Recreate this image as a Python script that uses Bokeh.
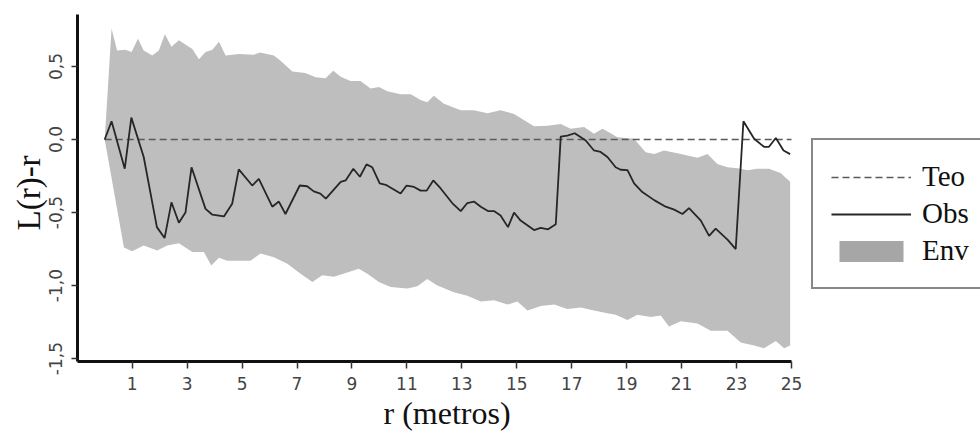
import math
from bokeh.plotting import figure
from bokeh.models import Range1d, FixedTicker, Legend, LegendItem, Title
from bokeh.embed import file_html
from bokeh.resources import INLINE

# ---- data ----
obs_r = [0, 0.25, 0.73, 0.97, 1.42, 1.9, 2.18, 2.43, 2.7, 2.94, 3.16, 3.67, 3.92, 4.34, 4.64,
         4.88, 5.37, 5.61, 6.1, 6.34, 6.58, 7.1, 7.37, 7.61, 7.85, 8.05, 8.59, 8.77, 9.05, 9.29,
         9.53, 9.74, 10.01, 10.23, 10.77, 10.99, 11.26, 11.5, 11.72, 11.96, 12.23, 12.65, 12.96,
         13.2, 13.44, 13.69, 13.95, 14.17, 14.41, 14.68, 14.9, 15.14, 15.41, 15.63, 15.87, 16.14,
         16.42, 16.6, 16.84, 17.11, 17.51, 17.81, 18.05, 18.3, 18.6, 18.78, 19.03, 19.27, 19.57,
         20.0, 20.42, 20.73, 21.03, 21.27, 21.7, 22.0, 22.24, 22.67, 22.97, 23.25, 23.64, 24.0,
         24.18, 24.43, 24.71, 24.95]
obs_v = [0, 0.125, -0.20, 0.15, -0.12, -0.60, -0.675, -0.43, -0.57, -0.50, -0.19, -0.475, -0.515,
         -0.527, -0.44, -0.205, -0.315, -0.27, -0.46, -0.425, -0.51, -0.315, -0.32, -0.355, -0.37,
         -0.405, -0.29, -0.28, -0.20, -0.255, -0.17, -0.19, -0.30, -0.31, -0.37, -0.315, -0.325,
         -0.35, -0.35, -0.28, -0.335, -0.435, -0.49, -0.435, -0.425, -0.46, -0.49, -0.49, -0.52,
         -0.60, -0.50, -0.555, -0.59, -0.62, -0.605, -0.615, -0.58, 0.02, 0.027, 0.043, -0.007,
         -0.075, -0.085, -0.12, -0.19, -0.207, -0.21, -0.30, -0.36, -0.415, -0.46, -0.48, -0.51,
         -0.47, -0.555, -0.66, -0.61, -0.685, -0.75, 0.125, 0.005, -0.05, -0.05, 0.01, -0.075, -0.10]

env_up_r = [0, 0.25, 0.45, 0.75, 0.98, 1.21, 1.42, 1.73, 1.97, 2.19, 2.43, 2.7, 3.19, 3.43, 3.67,
            3.92, 4.16, 4.4, 4.88, 5.43, 5.65, 6.16, 6.4, 6.83, 7.3, 7.68, 8.04, 8.32, 8.59, 8.95,
            9.31, 9.68, 9.98, 10.29, 10.77, 11.14, 11.5, 11.74, 11.98, 12.35, 12.96, 13.44, 13.93,
            14.41, 14.9, 15.63, 16.11, 16.6, 16.96, 17.45, 17.81, 18.12, 18.42, 18.66, 19.27, 19.69,
            20.0, 20.36, 20.85, 21.21, 21.58, 21.94, 22.3, 22.67, 23.03, 23.4, 23.76, 24.18, 24.6,
            24.95]
env_up_v = [0, 0.76, 0.61, 0.615, 0.60, 0.69, 0.61, 0.575, 0.61, 0.72, 0.635, 0.68, 0.62, 0.55,
            0.60, 0.615, 0.67, 0.575, 0.585, 0.58, 0.595, 0.575, 0.54, 0.465, 0.455, 0.427, 0.42,
            0.47, 0.43, 0.40, 0.40, 0.35, 0.36, 0.33, 0.31, 0.31, 0.27, 0.255, 0.30, 0.245, 0.20,
            0.20, 0.18, 0.20, 0.175, 0.09, 0.095, 0.107, 0.073, 0.085, 0.04, 0.073, 0.043, 0.016,
            0.005, -0.087, -0.10, -0.075, -0.094, -0.11, -0.125, -0.10, -0.167, -0.19, -0.196,
            -0.21, -0.20, -0.20, -0.23, -0.29]

env_lo_r = [0, 0.7, 1.0, 1.42, 1.91, 2.28, 2.7, 3.19, 3.61, 3.88, 4.16, 4.46, 5.31, 5.67, 6.16,
            6.65, 7.13, 7.56, 7.92, 8.34, 8.83, 9.25, 9.56, 9.98, 10.41, 11.02, 11.38, 11.74, 12.11,
            12.71, 13.2, 13.69, 14.17, 14.66, 15.02, 15.39, 15.87, 16.36, 16.84, 17.33, 17.81, 18.3,
            18.6, 19.03, 19.39, 19.88, 20.24, 20.54, 20.97, 21.58, 22.06, 22.67, 23.15, 23.64, 24.0,
            24.43, 24.73, 24.95]
env_lo_v = [0, -0.74, -0.765, -0.725, -0.76, -0.725, -0.71, -0.77, -0.77, -0.863, -0.81, -0.83,
            -0.83, -0.78, -0.806, -0.85, -0.92, -0.976, -0.93, -0.94, -0.91, -0.885, -0.92, -0.976,
            -1.01, -1.02, -1.005, -0.955, -1.0, -1.045, -1.07, -1.11, -1.10, -1.13, -1.11, -1.17,
            -1.14, -1.13, -1.16, -1.15, -1.17, -1.19, -1.20, -1.235, -1.20, -1.215, -1.205, -1.28,
            -1.245, -1.26, -1.31, -1.31, -1.39, -1.41, -1.43, -1.38, -1.43, -1.41]

teo_r = [0, 25]
teo_v = [0, 0]

x_ticks = [1, 3, 5, 7, 9, 11, 13, 15, 17, 19, 21, 23, 25]
y_ticks = [-1.5, -1.0, -0.5, 0.0, 0.5]
y_tick_labels = ["-1,5", "-1,0", "-0,5", "0,0", "0,5"]

X_MIN, X_MAX = -0.99, 25.0

# ---- figure ----
# frame spans to the right edge so the legend (drawn inside the frame) is not clipped;
# the x axis itself is bounded to the data range
px_per_unit = (791 - 77) / (X_MAX - X_MIN)
x_end = X_MIN + (980 - 77) / px_per_unit
p = figure(width=980, height=431, output_backend="svg", toolbar_location=None,
           x_range=Range1d(X_MIN, x_end), y_range=Range1d(-1.52, 0.856),
           min_border_left=77, min_border_right=0, min_border_top=14, min_border_bottom=70)
p.outline_line_color = None
p.xgrid.grid_line_color = None
p.ygrid.grid_line_color = None
p.background_fill_color = "white"

env_xs = env_up_r + env_lo_r[::-1]
env_ys = env_up_v + env_lo_v[::-1]
p.patch(env_xs, env_ys, fill_color="#bebebe", line_color=None)

teo = p.line(teo_r, teo_v, line_color="#5a5a5a", line_width=1.6, line_dash="7 4")
obs = p.line(obs_r, obs_v, line_color="#262626", line_width=1.8)
env_leg = p.patch([float("nan")], [float("nan")], fill_color="#a6a6a6", line_color=None)

# axes
for ax in (p.xaxis[0], p.yaxis[0]):
    ax.axis_line_color = "#111111"
    ax.axis_line_width = 3
    ax.major_tick_line_color = "#333333"
    ax.major_tick_line_width = 1.5
    ax.minor_tick_line_color = None
    ax.major_tick_in = 0
    ax.major_label_text_font = "DejaVu Sans"
    ax.major_label_text_font_size = "17px"
    ax.major_label_text_color = "#444444"

p.xaxis.bounds = (X_MIN, X_MAX)
p.xaxis.ticker = FixedTicker(ticks=x_ticks)
p.xaxis.major_tick_out = 7
p.xaxis.major_label_standoff = 8

p.yaxis.ticker = FixedTicker(ticks=y_ticks)
p.yaxis.major_label_overrides = {t: l for t, l in zip(y_ticks, y_tick_labels)}
p.yaxis.major_label_orientation = "vertical"
p.yaxis.major_tick_out = 6
p.yaxis.major_label_standoff = 9

# axis titles, placed where the reference puts them (not centred on the wide frame)
xtitle = Title(text="r (metros)", align="left", offset=306, standoff=0,
               text_font="Liberation Serif", text_font_size="32px",
               text_font_style="normal", text_color="#111111")
p.add_layout(xtitle, "below")

ytitle = Title(text="L(r)-r", align="left", offset=131, standoff=0,
               text_font="Liberation Serif", text_font_size="33px",
               text_font_style="normal", text_color="#111111")
p.add_layout(ytitle, "left")

legend = Legend(items=[LegendItem(label="Teo", renderers=[teo]),
                       LegendItem(label="Obs", renderers=[obs]),
                       LegendItem(label="Env", renderers=[env_leg])],
                location=(734, 72))
legend.label_text_font = "Liberation Serif"
legend.label_text_font_size = "29px"
legend.label_text_color = "#111111"
legend.border_line_color = "#111111"
legend.border_line_width = 2
legend.background_fill_color = "white"
legend.background_fill_alpha = 1
legend.padding = 18
legend.margin = 0
legend.spacing = 0
legend.label_height = 37
legend.label_width = 70
legend.glyph_height = 26
legend.glyph_width = 80
legend.label_standoff = 11
p.add_layout(legend)

open("out.html", "w").write(file_html(p, INLINE))
